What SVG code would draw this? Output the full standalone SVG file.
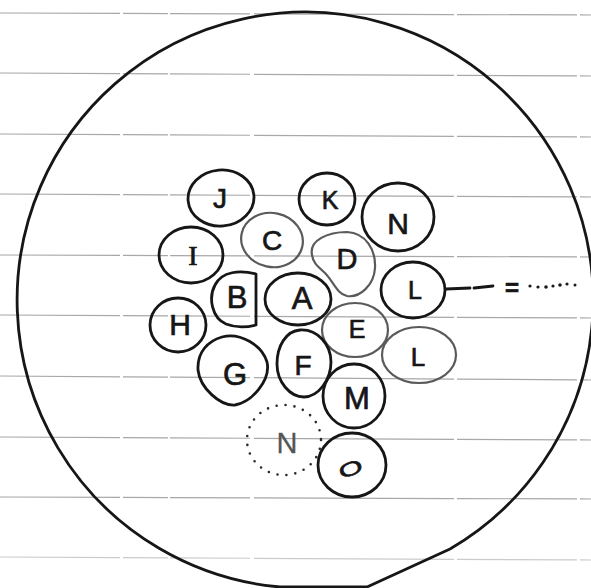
<svg xmlns="http://www.w3.org/2000/svg" width="591" height="588" viewBox="0 0 591 588">
<style>
.paper{stroke:#a8a8a8;stroke-width:1.2;fill:none;stroke-dasharray:120 3 45 2 80 4 200 3}
.ink{fill:none;stroke:#161616;stroke-width:2.8;stroke-linejoin:round;stroke-linecap:round}
.pencil{fill:none;stroke:#5a5a5a;stroke-width:2.2;stroke-linejoin:round}
.dots{fill:none;stroke:#2a2a2a;stroke-width:2.6;stroke-linecap:round;stroke-dasharray:0 9}
.lt{font-family:"Liberation Sans",Arial,sans-serif;fill:#161616;stroke:#161616;stroke-width:0.7;text-anchor:middle}
.lg{font-family:"Liberation Sans",Arial,sans-serif;fill:#555555;stroke:#555555;stroke-width:0.3;text-anchor:middle}
</style>
<rect width="591" height="588" fill="#ffffff"/>
<g id="paper-lines">
<line class="paper" x1="0" y1="13" x2="591" y2="15"/>
<line class="paper" x1="0" y1="73" x2="591" y2="76"/>
<line class="paper" x1="0" y1="134" x2="591" y2="137"/>
<line class="paper" x1="0" y1="194" x2="591" y2="197"/>
<line class="paper" x1="0" y1="255" x2="591" y2="257"/>
<line class="paper" x1="0" y1="315" x2="591" y2="318"/>
<line class="paper" x1="0" y1="376" x2="591" y2="380"/>
<line class="paper" x1="0" y1="437" x2="591" y2="440"/>
<line class="paper" x1="0" y1="497" x2="591" y2="499"/>
<line class="paper" x1="0" y1="557" x2="591" y2="560" stroke-opacity="0.6"/>
</g>
<g id="outer-circle">
<path class="ink" d="M 367,587 L 450,549 A 288 288 0 1 0 280,587 Z"/>
</g>
<g id="node-J">
<ellipse class="ink" cx="221" cy="198" rx="33" ry="28" transform="rotate(-5 221 198)"/>
<text class="lt" x="220" y="208" font-size="28">J</text>
</g>
<g id="node-K">
<ellipse class="ink" cx="327" cy="199" rx="28" ry="26"/>
<text class="lt" x="330" y="209" font-size="25">K</text>
</g>
<g id="node-N1">
<ellipse class="ink" cx="398" cy="217" rx="36" ry="34"/>
<text class="lt" x="398" y="234" font-size="30">N</text>
</g>
<g id="node-C">
<ellipse class="pencil" cx="272" cy="240" rx="31" ry="27" transform="rotate(12 272 240)"/>
<text class="lt" x="272" y="250" font-size="28">C</text>
</g>
<g id="node-I">
<ellipse class="ink" cx="191" cy="255" rx="32" ry="28"/>
<text class="lt" x="193" y="265" font-size="28" style="font-family:'Liberation Serif',serif">I</text>
</g>
<g id="node-D">
<path class="pencil" d="M 312,255 C 309,240 328,232 347,232 C 366,233 376,250 375,268 C 374,285 360,298 347,296 C 337,294 333,281 325,273 C 316,265 313,262 312,255 Z"/>
<text class="lt" x="347" y="269" font-size="29">D</text>
</g>
<g id="node-L1">
<ellipse class="ink" cx="413" cy="290" rx="32" ry="28"/>
<text class="lt" x="415" y="299" font-size="25">L</text>
</g>
<g id="node-B">
<path class="ink" d="M 256,274 C 240,270 222,271 215,285 C 208,298 212,318 226,324 C 236,328 248,327 256,325 Z"/>
<text class="lt" x="237" y="308" font-size="31">B</text>
</g>
<g id="node-A">
<ellipse class="ink" cx="298" cy="299" rx="33" ry="26"/>
<text class="lt" x="302" y="309" font-size="31">A</text>
</g>
<g id="node-H">
<ellipse class="ink" cx="178" cy="325" rx="28" ry="27"/>
<text class="lt" x="180" y="335" font-size="30">H</text>
</g>
<g id="node-E">
<ellipse class="pencil" cx="355" cy="330" rx="33" ry="27"/>
<text class="lt" x="357" y="338" font-size="25">E</text>
</g>
<g id="node-G">
<path class="ink" d="M 222,337 C 240,332 262,345 267,362 C 271,380 252,402 235,405 C 220,406 200,388 198,370 C 197,352 208,341 222,337 Z"/>
<text class="lt" x="235" y="385" font-size="31">G</text>
</g>
<g id="node-F">
<path class="ink" d="M 300,330 C 318,329 331,345 331,362 C 331,380 318,397 304,397 C 290,397 277,382 277,364 C 277,346 286,331 300,330 Z"/>
<text class="lt" x="303" y="375" font-size="28">F</text>
</g>
<g id="node-L2">
<ellipse class="pencil" cx="419" cy="355" rx="37" ry="28"/>
<text class="lt" x="418" y="366" font-size="26">L</text>
</g>
<g id="node-M">
<ellipse class="ink" cx="354" cy="396" rx="31" ry="32"/>
<text class="lt" x="357" y="409" font-size="31">M</text>
</g>
<g id="node-N2">
<ellipse class="dots" cx="284" cy="440" rx="37" ry="35"/>
<text class="lg" x="287" y="453" font-size="29">N</text>
</g>
<g id="node-O">
<ellipse class="ink" cx="352" cy="465" rx="34" ry="32"/>
<text class="lt" x="0" y="0" font-size="24" transform="translate(353 475) rotate(-20) scale(1.3 0.8)">O</text>
</g>
<g id="connectors">
<path class="ink" d="M 446,289 L 470,288 M 474,288 L 493,286" stroke-width="2.4"/>
<text class="lt" x="512" y="296" font-size="24" font-weight="bold">=</text>
<g fill="#1a1a1a">
<circle cx="530" cy="286" r="1.6"/>
<circle cx="538" cy="287" r="1.6"/>
<circle cx="546" cy="287" r="1.8"/>
<circle cx="553" cy="286" r="1.6"/>
<circle cx="560" cy="285" r="1.8"/>
<circle cx="567" cy="284" r="1.6"/>
<circle cx="575" cy="285" r="1.5"/>
</g>
</g>
</svg>
